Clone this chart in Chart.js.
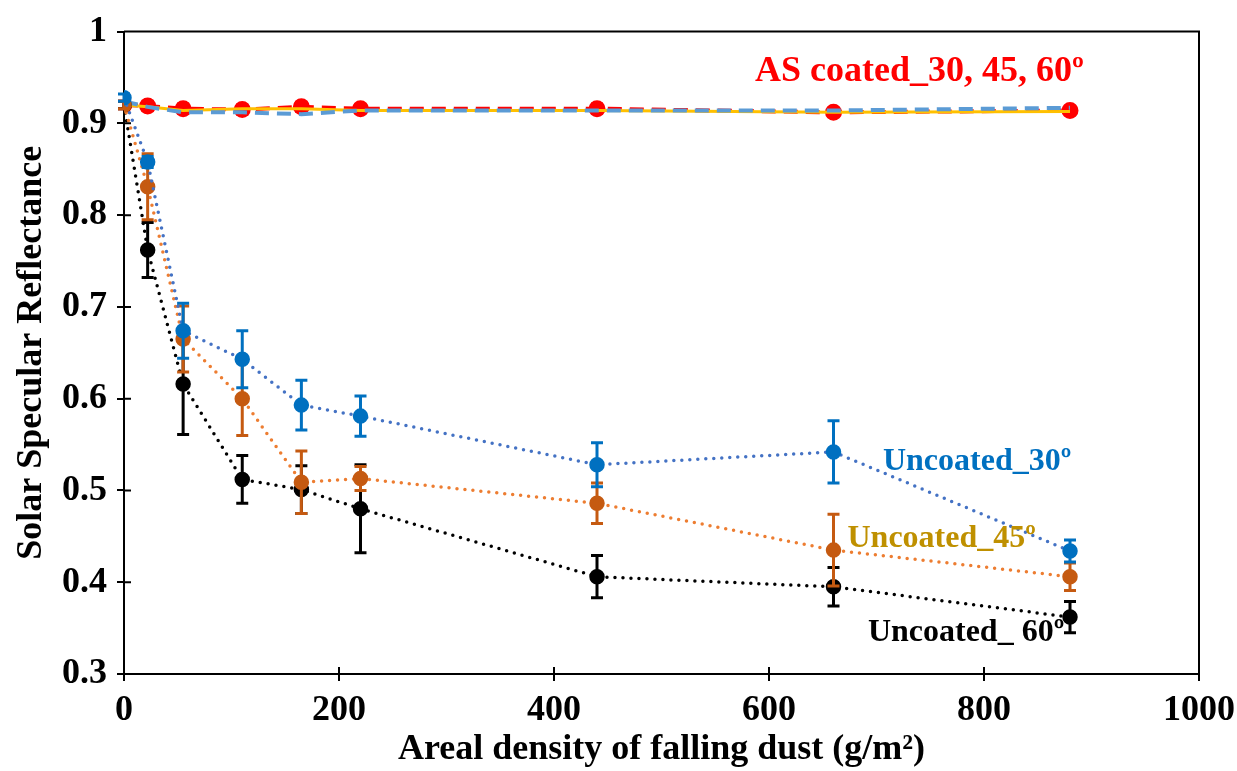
<!DOCTYPE html>
<html>
<head>
<meta charset="utf-8">
<script src="https://cdn.jsdelivr.net/npm/chart.js@4/dist/chart.umd.min.js"></script>
<style>
html, body { margin: 0; padding: 0; background: #fff; }
</style>
</head>
<body>
<canvas id="chart" width="1237" height="771"></canvas>
<script>
// areal density of falling dust (g/m2)
const dust = [0, 22, 55, 110, 165, 220, 440, 660, 880];

// uncoated mirrors
const unc30 = [0.928, 0.858, 0.674, 0.643, 0.593, 0.581, 0.528, 0.542, 0.434];
const unc30Err = [0.004, 0.006, 0.03, 0.031, 0.027, 0.022, 0.024, 0.034, 0.012];
const unc45 = [0.920, 0.831, 0.665, 0.600, 0.509, 0.513, 0.486, 0.435, 0.406];
const unc45Err = [0.004, 0.036, 0.036, 0.040, 0.034, 0.013, 0.022, 0.039, 0.015];
const unc60 = [0.920, 0.762, 0.616, 0.512, 0.501, 0.480, 0.406, 0.395, 0.362];
const unc60Err = [0.004, 0.030, 0.055, 0.026, 0.026, 0.048, 0.023, 0.021, 0.017];

// anti-soiling coated mirrors
const as30 = [0.924, 0.918, 0.912, 0.912, 0.910, 0.914, 0.914, 0.914, 0.917];
const as45 = [0.920, 0.918, 0.914, 0.916, 0.916, 0.914, 0.914, 0.912, 0.913];
const as60 = [0.920, 0.919, 0.916, 0.915, 0.918, 0.916, 0.916, 0.912, 0.914];
const as60Err = [0.004, 0.005, 0.005, 0.005, 0.005, 0.004, 0.005, 0.004, 0.004];

const yTicks = [0.3, 0.4, 0.5, 0.6, 0.7, 0.8, 0.9, 1];
const xTicks = [0, 200, 400, 600, 800, 1000];

const notes = [
    { text: 'AS coated_30, 45, 60º', x: 587, y: 0.956, color: '#FF0000', size: 36 },
    { text: 'Uncoated_30º', x: 706, y: 0.531, color: '#0070C0', size: 32 },
    { text: 'Uncoated_45º', x: 673, y: 0.447, color: '#BF9000', size: 32 },
    { text: 'Uncoated_ 60º', x: 692, y: 0.345, color: '#000000', size: 32 },
];

const FONT = '"Liberation Serif", "Times New Roman", serif';

function pts(ys) {
    return dust.map((x, i) => ({ x: x, y: ys[i] }));
}

const errorBars = {
    id: 'errorBars',
    afterDatasetDraw(chart, args) {
        const ds = chart.data.datasets[args.index];
        if (!ds.err) return;
        const ctx = chart.ctx;
        const xs = chart.scales.x, ys = chart.scales.y;
        ctx.save();
        ctx.strokeStyle = ds.errColor;
        ctx.lineWidth = 3;
        ds.data.forEach((p, i) => {
            const px = xs.getPixelForValue(p.x);
            const top = ys.getPixelForValue(p.y + ds.err[i]);
            const bot = ys.getPixelForValue(p.y - ds.err[i]);
            ctx.beginPath();
            ctx.moveTo(px, top); ctx.lineTo(px, bot);
            ctx.moveTo(px - 6, top); ctx.lineTo(px + 6, top);
            ctx.moveTo(px - 6, bot); ctx.lineTo(px + 6, bot);
            ctx.stroke();
        });
        ctx.restore();
    }
};

const frame = {
    id: 'frame',
    afterDraw(chart) {
        const ctx = chart.ctx;
        const a = chart.chartArea;
        const xs = chart.scales.x, ys = chart.scales.y;
        ctx.save();
        ctx.strokeStyle = '#000';
        ctx.lineWidth = 2;
        ctx.beginPath();
        ctx.moveTo(a.left, a.top); ctx.lineTo(a.right, a.top); ctx.lineTo(a.right, a.bottom);
        // inner halves of the crossing ticks
        xTicks.forEach(v => {
            const px = xs.getPixelForValue(v);
            ctx.moveTo(px, a.bottom); ctx.lineTo(px, a.bottom - 7);
        });
        yTicks.forEach(v => {
            const py = ys.getPixelForValue(v);
            ctx.moveTo(a.left, py); ctx.lineTo(a.left + 7, py);
        });
        ctx.stroke();
        ctx.textBaseline = 'middle';
        ctx.textAlign = 'left';
        notes.forEach(n => {
            ctx.font = 'bold ' + n.size + 'px ' + FONT;
            ctx.fillStyle = n.color;
            ctx.fillText(n.text, xs.getPixelForValue(n.x), ys.getPixelForValue(n.y));
        });
        ctx.restore();
    }
};

new Chart(document.getElementById('chart'), {
    type: 'line',
    data: {
        datasets: [
            {
                label: 'Uncoated_30',
                data: pts(unc30),
                err: unc30Err,
                errColor: '#0070C0',
                borderColor: '#4472C4',
                borderWidth: 3.5,
                borderDash: [0, 8],
                borderCapStyle: 'round',
                pointRadius: 6,
                pointBackgroundColor: '#0070C0',
                pointBorderColor: '#0070C0',
            },
            {
                label: 'Uncoated_45',
                data: pts(unc45),
                err: unc45Err,
                errColor: '#C55A11',
                borderColor: '#ED7D31',
                borderWidth: 3.5,
                borderDash: [0, 8],
                borderCapStyle: 'round',
                pointRadius: 6,
                pointBackgroundColor: '#C55A11',
                pointBorderColor: '#C55A11',
            },
            {
                label: 'Uncoated_60',
                data: pts(unc60),
                err: unc60Err,
                errColor: '#000000',
                borderColor: '#000000',
                borderWidth: 3.5,
                borderDash: [0, 8],
                borderCapStyle: 'round',
                pointRadius: 6,
                pointBackgroundColor: '#000000',
                pointBorderColor: '#000000',
            },
            {
                label: 'AS coated_30',
                data: pts(as30),
                borderColor: '#5B9BD5',
                borderWidth: 4,
                borderDash: [14, 8],
                pointRadius: 0,
            },
            {
                label: 'AS coated_45',
                data: pts(as45),
                borderColor: '#FFC000',
                borderWidth: 3,
                pointRadius: 0,
            },
            {
                label: 'AS coated_60',
                data: pts(as60),
                err: as60Err,
                errColor: '#FF0000',
                borderColor: '#FF0000',
                borderWidth: 4,
                borderDash: [14, 8],
                pointRadius: 6.5,
                pointBackgroundColor: '#FF0000',
                pointBorderColor: '#FF0000',
            },
        ]
    },
    options: {
        responsive: false,
        animation: false,
        layout: { padding: { top: 27, right: 38, left: 0, bottom: 0 } },
        plugins: {
            legend: { display: false },
            tooltip: { enabled: false },
        },
        scales: {
            x: {
                type: 'linear',
                min: 0,
                max: 1000,
                afterBuildTicks: s => { s.ticks = xTicks.map(v => ({ value: v })); },
                afterFit: s => { s.height = 97; s.paddingRight = 0; },
                ticks: {
                    color: '#000',
                    padding: 8,
                    callback: v => String(v),
                    font: { family: FONT, size: 36, weight: 'bold' },
                },
                grid: { drawOnChartArea: false, color: '#000', lineWidth: 2, tickLength: 7 },
                border: { color: '#000', width: 2 },
                title: {
                    display: true,
                    text: 'Areal density of falling dust (g/m²)',
                    color: '#000',
                    padding: { top: 0, bottom: 0 },
                    font: { family: FONT, size: 36, weight: 'bold' },
                },
            },
            y: {
                min: 0.3,
                max: 1,
                afterBuildTicks: s => { s.ticks = yTicks.map(v => ({ value: v })); },
                afterFit: s => { s.width = 124; },
                ticks: {
                    color: '#000',
                    padding: 10,
                    callback: v => (v === 1 ? '1' : v.toFixed(1)),
                    font: { family: FONT, size: 36, weight: 'bold' },
                },
                grid: { drawOnChartArea: false, color: '#000', lineWidth: 2, tickLength: 7 },
                border: { color: '#000', width: 2 },
                title: {
                    display: true,
                    text: 'Solar Specular Reflectance',
                    color: '#000',
                    padding: { top: 10, bottom: 0 },
                    font: { family: FONT, size: 36, weight: 'bold' },
                },
            },
        },
    },
    plugins: [errorBars, frame],
});
</script>
</body>
</html>
